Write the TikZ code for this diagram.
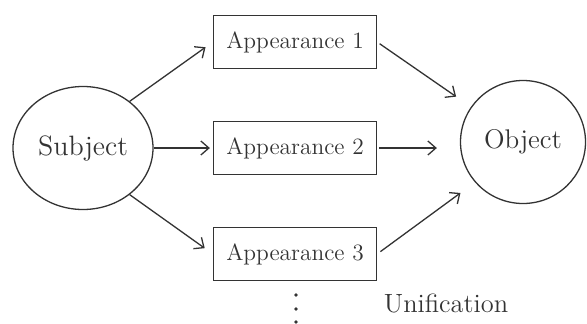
\documentclass[tikz,border=0pt]{standalone}
\usepackage{tikz}
\usetikzlibrary{shapes.geometric, arrows.meta}
\definecolor{ink}{HTML}{333333}
\tikzstyle{entity} = [ellipse, minimum width=70pt, minimum height=61.5pt, inner sep=0pt, draw=ink, line width=0.65pt, text=ink, font=\fontsize{14}{16}\selectfont]
\tikzstyle{appear} = [rectangle, minimum width=81.5pt, minimum height=26.5pt, inner sep=0pt, text centered, draw=ink, line width=0.65pt, text=ink, font=\fontsize{11.7}{14}\selectfont]
\tikzstyle{arrow} = [ink, line width=0.65pt, -{Straight Barb[length=4pt,width=7pt]}]
\tikzstyle{dot} = [circle, fill=ink, inner sep=0pt, minimum size=1.8pt]
\begin{document}
\begin{tikzpicture}[x=0.5pt, y=0.5pt, node distance=53pt]
    \useasboundingbox (0,0) rectangle (587,323);
    \node (subj) [entity] at (83,175) {Subject};
    \node (obj) [entity, minimum width=62.5pt, font=\fontsize{13.5}{16}\selectfont] at (523,181) {Object};
    \node (app1) [appear] at (295,281) {Appearance 1};
    \node (app2) [appear, below of=app1] {Appearance 2};
    \node (app3) [appear, below of=app2] {Appearance 3};
    \node (unif) [text=ink, font=\fontsize{13.2}{16}\selectfont] at (446,20) {Unification};
    % vertical ellipsis under the last appearance
    \foreach \i/\y in {1/28, 2/14, 3/1}
        \node (dot\i) [dot] at (296,\y) {};

    \draw [arrow, shorten >=4.5pt] (subj.45) -- (app1.west);
    \draw [arrow, shorten >=1.5pt] (subj.east) -- (app2.west);
    \draw [arrow, shorten >=5pt] (subj.-45) -- (app3.west);
    \draw [arrow, shorten <=1.5pt, shorten >=9pt] (app1.east) -- (obj.146);
    \draw [arrow, shorten <=1pt, shorten >=11.5pt] (app2.east) -- (app2.east -| obj.west);
    \draw [arrow, shorten <=2pt, shorten >=9pt] (app3.east) -- (obj.220);
  \end{tikzpicture}
\end{document}
